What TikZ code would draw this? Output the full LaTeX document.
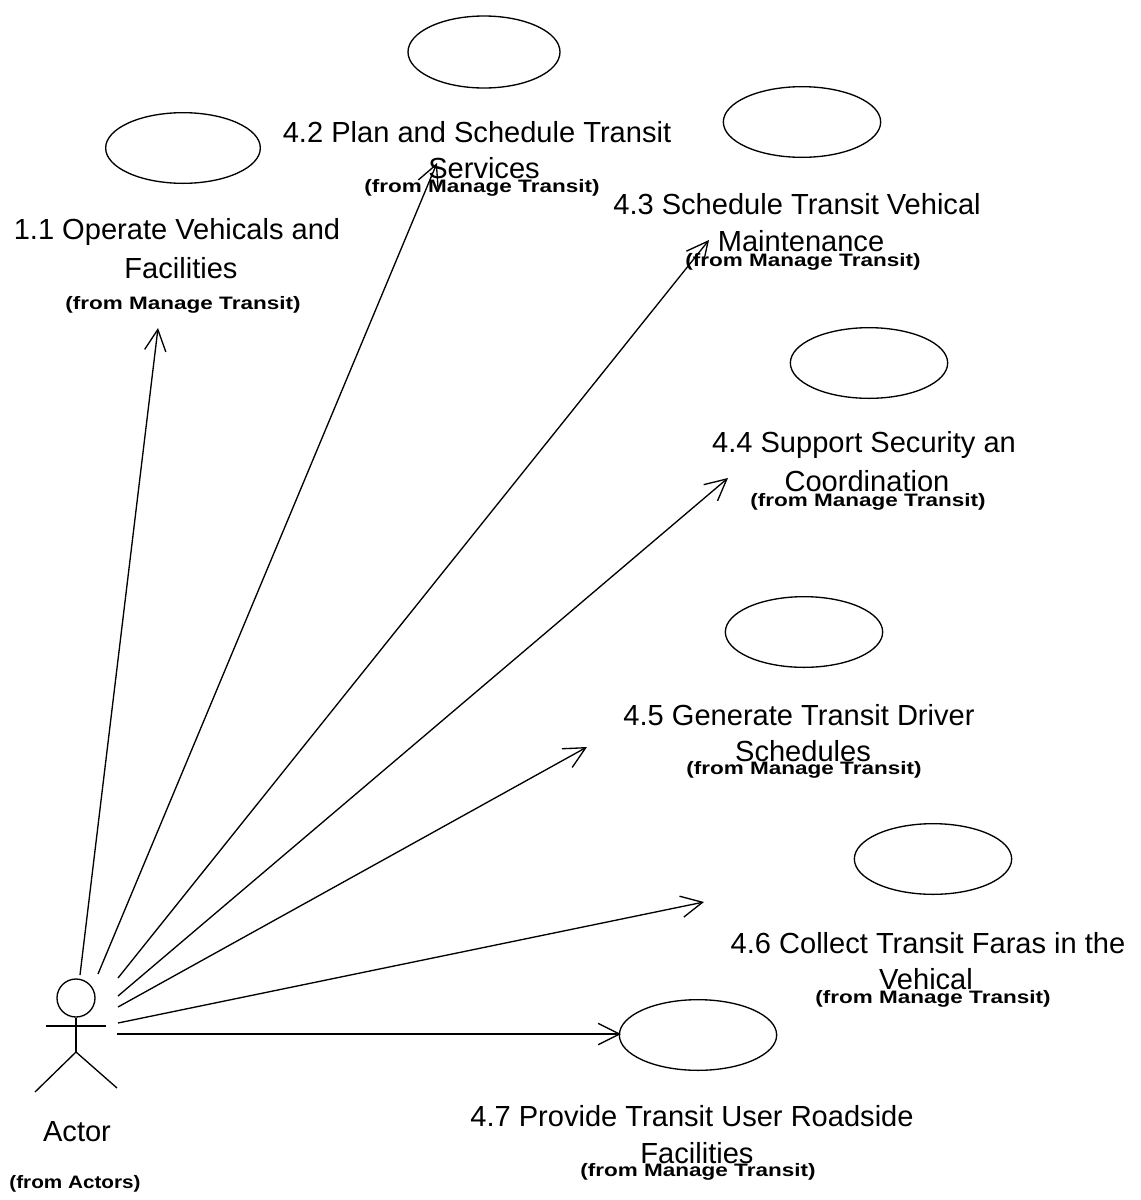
\documentclass[tikz,border=0pt]{standalone}
\usepackage{fontspec}
\usepackage{graphicx}
\setmainfont{Liberation Sans}
\usetikzlibrary{shapes.geometric,arrows.meta}
\tikzset{
 usecase/.style={draw,ellipse,line width=1pt,inner sep=0pt},
 title/.style={font=\fontsize{21.8}{24}\selectfont,align=center,inner sep=0pt,anchor=center},
 sub/.style={font=\bfseries\fontsize{13.5}{15}\selectfont,inner sep=0pt,anchor=center},
 assoc/.style={line width=1pt,-{Straight Barb[length=16pt,width=16pt,line width=1pt]}},
 stick/.style={line width=1pt}
}
\newcommand{\wide}[1]{\scalebox{1.25}[1]{#1}}
\begin{document}
\begin{tikzpicture}[x=0.75pt,y=-0.75pt]
\useasboundingbox (0,0) rectangle (1140,1200);
\fill[white] (0,0) rectangle (1140,1200);
\node[usecase,minimum width=116pt,minimum height=53pt] (u1) at (183,148) {};
\node[usecase,minimum width=114pt,minimum height=54pt] (u2) at (484,52) {};
\node[usecase,minimum width=118pt,minimum height=53pt] (u3) at (802,122) {};
\node[usecase,minimum width=118pt,minimum height=53pt] (u4) at (869,363) {};
\node[usecase,minimum width=118pt,minimum height=53pt] (u5) at (804,632) {};
\node[usecase,minimum width=118pt,minimum height=53pt] (u6) at (933,859) {};
\node[usecase,minimum width=118pt,minimum height=53pt] (u7) at (698,1035) {};
\node[title] (t1a) at (177,232) {1.1 Operate Vehicals and};
\node[title] (t1b) at (181,268) {Facilities};
\node[sub] (s1) at (183,305) {\wide{(from Manage Transit)}};
\node[title] (t2a) at (477,132) {4.2 Plan and Schedule Transit};
\node[title] (t2b) at (484,168) {Services};
\node[sub] (s2) at (482,188) {\wide{(from Manage Transit)}};
\node[title] (t3a) at (797,204) {4.3 Schedule Transit Vehical};
\node[title] (t3b) at (801,241) {Maintenance};
\node[sub] (s3) at (803,262) {\wide{(from Manage Transit)}};
\node[title] (t4a) at (864,445) {4.4 Support Security an};
\node[title] (t4b) at (867,481) {Coordination};
\node[sub] (s4) at (868,502) {\wide{(from Manage Transit)}};
\node[title] (t5a) at (799,715) {4.5 Generate Transit Driver};
\node[title] (t5b) at (803,751) {Schedules};
\node[sub] (s5) at (804,770) {\wide{(from Manage Transit)}};
\node[title] (t6a) at (928,943) {4.6 Collect Transit Faras in the};
\node[title] (t6b) at (926,979) {Vehical};
\node[sub] (s6) at (933,999) {\wide{(from Manage Transit)}};
\node[title] (t7a) at (692,1116) {4.7 Provide Transit User Roadside};
\node[title] (t7b) at (697,1153) {Facilities};
\node[sub] (s7) at (698,1172) {\wide{(from Manage Transit)}};
\node[title] (ta) at (77,1132) {Actor};
\node[sub] (sa) at (75,1184) {\scalebox{1.15}[1]{(from Actors)}};
% actor
\node[draw,circle,line width=1pt,minimum width=28.5pt,inner sep=0pt] (head) at (76,998) {};
\coordinate (hip) at (76,1052);
\coordinate (armL) at (46,1026);
\coordinate (armR) at (106,1026);
\coordinate (legL) at (35,1092);
\coordinate (legR) at (117,1088);
\draw[stick,line width=1.4pt] (head.south) -- (hip);
\draw[stick] (armL) -- (armR);
\draw[stick] (legL) -- (hip) -- (legR);
% connectors
\coordinate (a1) at (80,975); \coordinate (e1) at (158,328);
\coordinate (a2) at (98,974); \coordinate (e2) at (437,163);
\coordinate (a3) at (118,978); \coordinate (e3) at (709,240);
\coordinate (a4) at (118,996); \coordinate (e4) at (728,478);
\coordinate (a5) at (118,1007); \coordinate (e5) at (587,747);
\coordinate (a6) at (118,1023); \coordinate (e6) at (704,902);
\coordinate (a7) at (117,1034); \coordinate (e7) at (621,1034);
\foreach \i in {1,...,7}{\draw[assoc] (a\i) -- (e\i);}
\end{tikzpicture}
\end{document}
